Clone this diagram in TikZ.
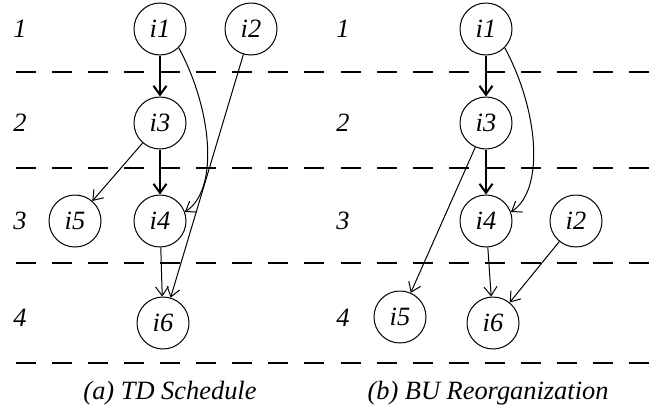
\documentclass[tikz,border=0pt]{standalone}
\usepackage{fontspec}
\setmainfont{Liberation Serif}
\newfontfamily\figfont{Liberation Serif}
\usetikzlibrary{arrows.meta}

\tikzset{
  task/.style={draw, circle, line width=0.5pt, minimum size=26pt, inner sep=0pt},
  dep/.style={-{Straight Barb[length=4.5pt,width=6.5pt]}, line width=0.5pt},
  chaindep/.style={dep, line width=1pt},
  levelline/.style={dash pattern=on 10pt off 8pt, line width=1pt},
  lvl/.style={anchor=center}
}

\begin{document}
\begin{tikzpicture}[x=0.5pt,y=-0.5pt,font=\figfont\fontsize{13.2}{16}\selectfont\itshape]
\useasboundingbox (0,0) rectangle (657,413);

\foreach \y in {72,168,263,363} {
  \draw[levelline] (16,\y) -- (325,\y);
  \draw[levelline] (341,\y) -- (650,\y);
}

\node[lvl] (la1) at (20,29) {1};
\node[lvl] (la2) at (20,123) {2};
\node[lvl] (la3) at (20,221) {3};
\node[lvl] (la4) at (20,318) {4};
\node[lvl] (lb1) at (343,29) {1};
\node[lvl] (lb2) at (343,123) {2};
\node[lvl] (lb3) at (343,221) {3};
\node[lvl] (lb4) at (343,318) {4};

\node[task] (a1) at (160,29) {i1};
\node[task] (a2) at (251,29) {i2};
\node[task] (a3) at (160,123) {i3};
\node[task] (a4) at (160,221) {i4};
\node[task] (a5) at (75,221) {i5};
\node[task] (a6) at (163,323) {i6};

\draw[chaindep] (a1) -- (a3);
\draw[chaindep] (a3) -- (a4);
\draw[dep] (a1.-45) .. controls +(34,63) and +(34,-22) .. (a4.20);
\draw[dep] (a3) -- (a5);
\draw[dep] (a4) -- (a6);
\draw[dep] (a2) -- (a6);

\node[task] (b1) at (486,29) {i1};
\node[task] (b3) at (486,123) {i3};
\node[task] (b4) at (486,221) {i4};
\node[task] (b2) at (576,221) {i2};
\node[task] (b5) at (400,317) {i5};
\node[task] (b6) at (493,323) {i6};

\draw[chaindep] (b1) -- (b3);
\draw[chaindep] (b3) -- (b4);
\draw[dep] (b1.-45) .. controls +(34,63) and +(34,-22) .. (b4.20);
\draw[dep] (b3) -- (b5);
\draw[dep] (b4) -- (b6);
\draw[dep] (b2) -- (b6);

\node (capa) at (170,393) {(a) TD Schedule};
\node (capb) at (488,393) {(b) BU Reorganization};
\end{tikzpicture}
\end{document}
